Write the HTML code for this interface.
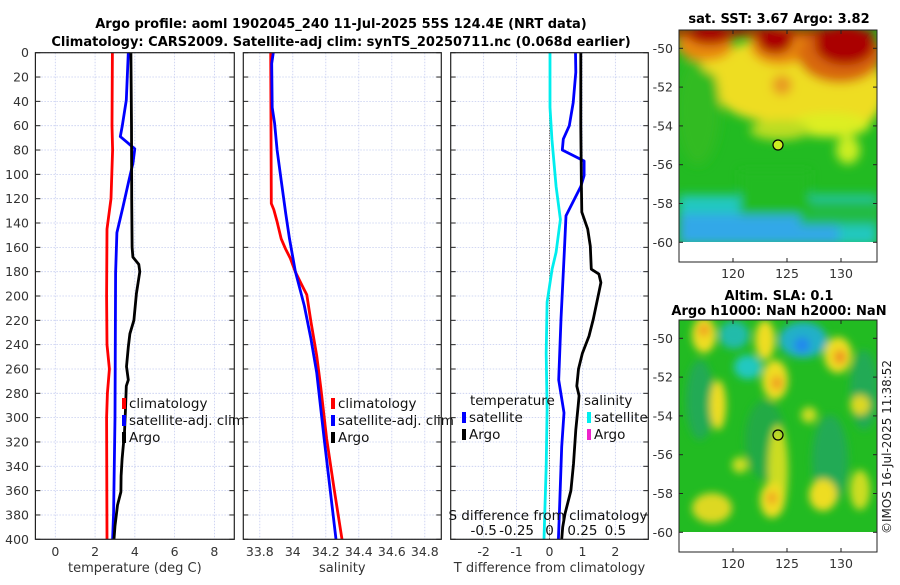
<!DOCTYPE html>
<html><head><meta charset="utf-8"><style>
body{margin:0;background:#fff;}
svg text{font-family:"DejaVu Sans","Liberation Sans",sans-serif;}
</style></head><body>
<svg id="fig" width="900" height="580" viewBox="0 0 900 580" xmlns="http://www.w3.org/2000/svg">
<defs>
<filter id="blur1" x="-20%" y="-20%" width="140%" height="140%"><feGaussianBlur stdDeviation="5"/></filter>
<filter id="blur2" x="-20%" y="-20%" width="140%" height="140%"><feGaussianBlur stdDeviation="4"/></filter>
<clipPath id="c1"><rect x="679" y="30" width="198" height="212"/></clipPath>
<clipPath id="c2"><rect x="679" y="320" width="198" height="212"/></clipPath>
</defs>
<text x="341" y="28" text-anchor="middle" font-size="13" font-weight="bold">Argo profile: aoml 1902045_240 11-Jul-2025 55S 124.4E (NRT data)</text>
<text x="341" y="46" text-anchor="middle" font-size="13" font-weight="bold">Climatology: CARS2009. Satellite-adj clim: synTS_20250711.nc (0.068d earlier)</text>
<g id="panels"></g>

<!-- SST map -->
<g>
<text x="779" y="23" text-anchor="middle" font-size="13" font-weight="bold">sat. SST: 3.67 Argo: 3.82</text>
<rect x="679" y="30" width="198" height="232" fill="#fff"/>
<g clip-path="url(#c1)">
<rect x="679" y="30" width="198" height="212" fill="#22bb22"/>
<g filter="url(#blur1)">
<rect x="679" y="195" width="198" height="50" fill="#20c8c0"/>
<rect x="679" y="214" width="160" height="30" fill="#30a8e8"/>
<rect x="800" y="200" width="80" height="25" fill="#22bb44"/>
<rect x="740" y="170" width="70" height="45" fill="#22bb22"/>
<ellipse cx="775" cy="80" rx="65" ry="42" fill="#eedd22"/>
<ellipse cx="835" cy="90" rx="50" ry="45" fill="#eedd22"/>
<ellipse cx="830" cy="125" rx="40" ry="12" fill="#ddee22"/>
<ellipse cx="848" cy="150" rx="12" ry="14" fill="#ccee22"/>
<ellipse cx="780" cy="130" rx="30" ry="10" fill="#bbdd22"/>
<ellipse cx="698" cy="110" rx="22" ry="55" fill="#33bb22"/>
<ellipse cx="720" cy="60" rx="20" ry="15" fill="#eedd22"/>
<ellipse cx="705" cy="45" rx="28" ry="16" fill="#e88810"/>
<ellipse cx="780" cy="45" rx="30" ry="20" fill="#e88810"/>
<ellipse cx="840" cy="55" rx="42" ry="28" fill="#d86808"/>
<ellipse cx="782" cy="85" rx="10" ry="10" fill="#e89a20"/>
<ellipse cx="710" cy="35" rx="22" ry="10" fill="#aa0000"/>
<ellipse cx="775" cy="40" rx="18" ry="14" fill="#aa0000"/>
<ellipse cx="845" cy="45" rx="30" ry="20" fill="#aa0000"/>
<ellipse cx="720" cy="32" rx="160" ry="5" fill="#aa0000"/>
</g>
</g>
<circle cx="778" cy="145" r="5" fill="#ccee22" stroke="#000" stroke-width="1.2"/>
<rect x="679" y="30" width="198" height="232" fill="none" stroke="#222" stroke-width="1"/>
<g id="m1ticks" font-size="12" fill="#333"></g>
</g>

<!-- SLA map -->
<g>
<text x="779" y="300" text-anchor="middle" font-size="13" font-weight="bold">Altim. SLA: 0.1</text>
<text x="779" y="315" text-anchor="middle" font-size="13" font-weight="bold">Argo h1000: NaN h2000: NaN</text>
<rect x="679" y="320" width="198" height="232" fill="#fff"/>
<g clip-path="url(#c2)">
<rect x="679" y="320" width="198" height="212" fill="#22bb22"/>
<g filter="url(#blur2)">
<ellipse cx="700" cy="400" rx="14" ry="40" fill="#22aa55"/>
<ellipse cx="765" cy="440" rx="20" ry="40" fill="#22aa44"/>
<ellipse cx="830" cy="460" rx="18" ry="45" fill="#22aa55"/>
<ellipse cx="864" cy="390" rx="14" ry="40" fill="#22aa55"/>
<ellipse cx="734" cy="335" rx="15" ry="14" fill="#22bbaa"/>
<ellipse cx="748" cy="367" rx="14" ry="12" fill="#22c8c0"/>
<ellipse cx="803" cy="340" rx="24" ry="18" fill="#22b0c8"/>
<ellipse cx="802" cy="345" rx="8" ry="8" fill="#2288ee"/>
<ellipse cx="704" cy="335" rx="12" ry="18" fill="#eedd22"/>
<ellipse cx="704" cy="330" rx="6" ry="6" fill="#f0a020"/>
<ellipse cx="765" cy="340" rx="10" ry="20" fill="#eedd22"/>
<ellipse cx="775" cy="380" rx="13" ry="20" fill="#eedd22"/>
<ellipse cx="777" cy="383" rx="6" ry="7" fill="#f0a020"/>
<ellipse cx="838" cy="355" rx="14" ry="18" fill="#eedd22"/>
<ellipse cx="840" cy="357" rx="6" ry="7" fill="#f09020"/>
<ellipse cx="718" cy="405" rx="8" ry="25" fill="#eedd22"/>
<ellipse cx="860" cy="405" rx="10" ry="10" fill="#ddd822"/>
<ellipse cx="740" cy="465" rx="8" ry="8" fill="#ccdd22"/>
<ellipse cx="778" cy="470" rx="10" ry="45" fill="#ccdd22"/>
<ellipse cx="772" cy="500" rx="12" ry="18" fill="#eedd22"/>
<ellipse cx="772" cy="498" rx="5" ry="6" fill="#f0a020"/>
<ellipse cx="823" cy="495" rx="14" ry="16" fill="#eedd22"/>
<ellipse cx="712" cy="508" rx="20" ry="15" fill="#ddd822"/>
<ellipse cx="860" cy="490" rx="10" ry="20" fill="#ccdd22"/>
<ellipse cx="809" cy="415" rx="8" ry="8" fill="#ccdd22"/>
</g>
</g>
<circle cx="778" cy="435" r="5" fill="none" stroke="#000" stroke-width="1.2"/>
<rect x="679" y="320" width="198" height="232" fill="none" stroke="#222" stroke-width="1"/>
<g id="m2ticks" font-size="12" fill="#333"></g>
</g>
<text transform="translate(891,447) rotate(-90)" text-anchor="middle" font-size="12" fill="#222">©IMOS 16-Jul-2025 11:38:52</text>
</svg>
<script>
// ---- data ----
const depthTicks=[0,20,40,60,80,100,120,140,160,180,200,220,240,260,280,300,320,340,360,380,400];
const tClimDepth=[0,60,80,120,130,145,200,240,260,280,300,400];
const tClim=[2.87,2.85,2.88,2.8,2.72,2.6,2.58,2.6,2.72,2.62,2.58,2.6];
const tSatDepth=[0,39,60,69,79,91,105,127,148,181,300,378,400];
const tSat=[3.67,3.57,3.37,3.27,4.0,3.9,3.7,3.4,3.1,3.03,3.0,2.93,2.88];
const tArgoDepth=[0,60,120,160,168,174,180,198,220,231,242,258,269,274,293,312,334,348,361,372,389,400];
const tArgo=[3.8,3.83,3.84,3.86,3.9,4.2,4.25,4.08,3.95,3.75,3.67,3.58,3.67,3.57,3.53,3.48,3.36,3.31,3.3,3.13,3.0,2.95];
const sClimDepth=[0,124,129,139,153,161,169,180,191,199,221,249,276,317,358,400];
const sClim=[33.866,33.87,33.885,33.905,33.93,33.955,33.985,34.015,34.055,34.085,34.11,34.145,34.17,34.205,34.25,34.298];
const sSatDepth=[0,9,45,58,80,105,132,153,180,208,235,263,317,400];
const sSat=[33.882,33.872,33.875,33.89,33.905,33.93,33.957,33.98,34.016,34.07,34.11,34.145,34.19,34.262];
const dTSatDepth=[0,16,41,60,71,80,89,101,110,134,164,219,269,296,324,378,400];
const dTSat=[0.79,0.8,0.72,0.6,0.42,0.39,1.05,1.05,0.95,0.5,0.45,0.35,0.28,0.44,0.37,0.3,0.27];
const dTArgoDepth=[0,60,110,131,145,159,178,182,189,197,219,233,247,260,274,282,290,310,338,360,379,390,400];
const dTArgo=[0.95,0.95,0.97,0.98,1.16,1.24,1.27,1.5,1.56,1.5,1.33,1.2,1.0,0.88,0.83,0.9,0.87,0.8,0.73,0.65,0.47,0.4,0.37];
const dSSatDepth=[0,45,71,110,137,164,178,205,247,293,340,400];
const dSSat=[0.004,0.004,0.018,0.05,0.083,0.05,0.02,-0.018,-0.025,-0.018,-0.025,-0.042];
const tTicks=[0,2,4,6,8], sTicks=[33.8,34,34.2,34.4,34.6,34.8], dTTicks=[-2,-1,0,1,2];
const dSTicks=[-0.5,-0.25,0,0.25,0.5], dSTickLabels=["-0.5","-0.25","0","0.25","0.5"];
const latTicks=[-50,-52,-54,-56,-58,-60], lonTicks=[120,125,130];

const NS="http://www.w3.org/2000/svg";
const root=document.getElementById('panels');
function mk(tag,attrs,parent,txt){const e=document.createElementNS(NS,tag);for(const k in attrs)e.setAttribute(k,attrs[k]);if(txt!==undefined)e.textContent=txt;(parent||root).appendChild(e);return e;}
const Y0=52.7,Y1=539.3;
const yS=d=>Y0+(Y1-Y0)*d/400;
function panel(name,x0,x1,v0,v1){return {name,x0,x1,xs:v=>x0+(x1-x0)*(v-v0)/(v1-v0)};}
const P1=panel('temperature',35.4,234.3,-1,9);
const P2=panel('salinity',243.3,441.3,33.7,34.9);
const P3=panel('tdiff',450.7,648.3,-3,3);
const sdx=v=>P3.xs(v*4);

function frame(P,ticks,labels,title,showY){
  const g=mk('g',{});
  
  
  for(const d of depthTicks){
    const l=mk('line',{x1:P.x0,x2:P.x1,y1:yS(d),y2:yS(d),stroke:'#c4cbef','stroke-width':0.8,'stroke-dasharray':'1.5,1.5'},g);
    
    
  }
  ticks.forEach((v,i)=>{
    const x=P.xs(v);
    const l=mk('line',{x1:x,x2:x,y1:Y0,y2:Y1,stroke:'#c4cbef','stroke-width':0.8,'stroke-dasharray':'1.5,1.5'},g);
    
    
    const t=mk('text',{x:x,y:556,'text-anchor':'middle','font-size':12.5,fill:'#333'},g,labels[i]);
    
    
  });
  for(const d of depthTicks){
    mk('line',{x1:P.x0,x2:P.x0+5,y1:yS(d),y2:yS(d),stroke:'#222'},g);
    mk('line',{x1:P.x1-5,x2:P.x1,y1:yS(d),y2:yS(d),stroke:'#222'},g);
    if(showY){const t=mk('text',{x:29,y:yS(d)+4.5,'text-anchor':'end','font-size':12.5,fill:'#333'},g,String(d));
      
      }
  }
  const tt=mk('text',{x:(P.x0+P.x1)/2,y:572,'text-anchor':'middle','font-size':13,fill:'#333'},g,title);
  
  
  return g;
}
function line(g,depths,vals,xf,color,name,w){
  const pts=depths.map((d,i)=>xf(vals[i]).toFixed(1)+','+yS(d).toFixed(1)).join(' ');
  const p=mk('polyline',{points:pts,fill:'none',stroke:color,'stroke-width':w||2.8,'stroke-linejoin':'round'},g);
  
  
}
function border(g,P){mk('rect',{x:P.x0,y:Y0,width:P.x1-P.x0,height:Y1-Y0,fill:'none',stroke:'#222','stroke-width':1.2},g);}
function legendItem(g,x,y,color,label,name){
  mk('rect',{x:x,y:y-10,width:4,height:11,fill:color},g);
  const t=mk('text',{x:x+7,y:y,'font-size':13.5,fill:'#111'},g,label);
  
  
}
// panel 1
let g1=frame(P1,tTicks,tTicks.map(String),'temperature (deg C)',true);
line(g1,tClimDepth,tClim,P1.xs,'#f00','temp-climatology-line');
line(g1,tSatDepth,tSat,P1.xs,'#00f','temp-satellite-line');
line(g1,tArgoDepth,tArgo,P1.xs,'#000','temp-argo-line');
legendItem(g1,122,408,'#f00','climatology','legend-climatology');
legendItem(g1,122,425,'#00f','satellite-adj. clim','legend-satellite');
legendItem(g1,122,442,'#000','Argo','legend-argo');
border(g1,P1);
// panel 2
let g2=frame(P2,sTicks,sTicks.map(v=>String(+v.toFixed(1))),'salinity',false);
line(g2,sClimDepth,sClim,P2.xs,'#f00','sal-climatology-line');
line(g2,sSatDepth,sSat,P2.xs,'#00f','sal-satellite-line');
legendItem(g2,331,408,'#f00','climatology','legend-climatology');
legendItem(g2,331,425,'#00f','satellite-adj. clim','legend-satellite');
legendItem(g2,331,442,'#000','Argo','legend-argo');
border(g2,P2);
// panel 3
let g3=frame(P3,dTTicks,dTTicks.map(String),'T difference from climatology',false);
mk('line',{x1:P3.xs(0),x2:P3.xs(0),y1:Y0,y2:Y1,stroke:'#554433','stroke-width':1,'stroke-dasharray':'1,1.5'},g3);
line(g3,dSSatDepth,dSSat,sdx,'#00eeee','sdiff-satellite-line');
line(g3,dTSatDepth,dTSat,P3.xs,'#00f','tdiff-satellite-line');
line(g3,dTArgoDepth,dTArgo,P3.xs,'#000','tdiff-argo-line');
let lt=mk('text',{x:470,y:405,'font-size':13.5,fill:'#111'},g3,'temperature');

let ls=mk('text',{x:584,y:405,'font-size':13.5,fill:'#111'},g3,'salinity');

legendItem(g3,462,422,'#00f','satellite','legend-t-satellite');
legendItem(g3,462,439,'#000','Argo','legend-t-argo');
legendItem(g3,587,422,'#00eeee','satellite','legend-s-satellite');
legendItem(g3,587,439,'#ee22cc','Argo','legend-s-argo');
let st=mk('text',{x:548,y:520,'text-anchor':'middle','font-size':13.5,fill:'#111'},g3,'S difference from climatology');

dSTicks.forEach((v,i)=>{const t=mk('text',{x:sdx(v),y:535,'text-anchor':'middle','font-size':13.5,fill:'#111'},g3,dSTickLabels[i]);
  });
border(g3,P3);
// map ticks
function mapTicks(id,top,latTop,bottom){
  const g=document.getElementById(id);
  const latY=l=>latTop+(-50-l)*19.4;
  const lonX=l=>733+(l-120)*10.8;
  latTicks.forEach(l=>{const y=latY(l);
    mk('line',{x1:679,x2:683,y1:y,y2:y,stroke:'#222'},g);mk('line',{x1:873,x2:877,y1:y,y2:y,stroke:'#222'},g);
    const t=mk('text',{x:673,y:y+4.5,'text-anchor':'end','font-size':12.5},g,String(l));
    });
  lonTicks.forEach(l=>{const x=lonX(l);
    mk('line',{x1:x,x2:x,y1:bottom-4,y2:bottom,stroke:'#222'},g);mk('line',{x1:x,x2:x,y1:top,y2:top+4,stroke:'#222'},g);
    const t=mk('text',{x:x,y:bottom+16,'text-anchor':'middle','font-size':12.5},g,String(l));
    });
}
mapTicks('m1ticks',30,48.3,262);
mapTicks('m2ticks',320,338.3,552);
</script>
</body></html>
